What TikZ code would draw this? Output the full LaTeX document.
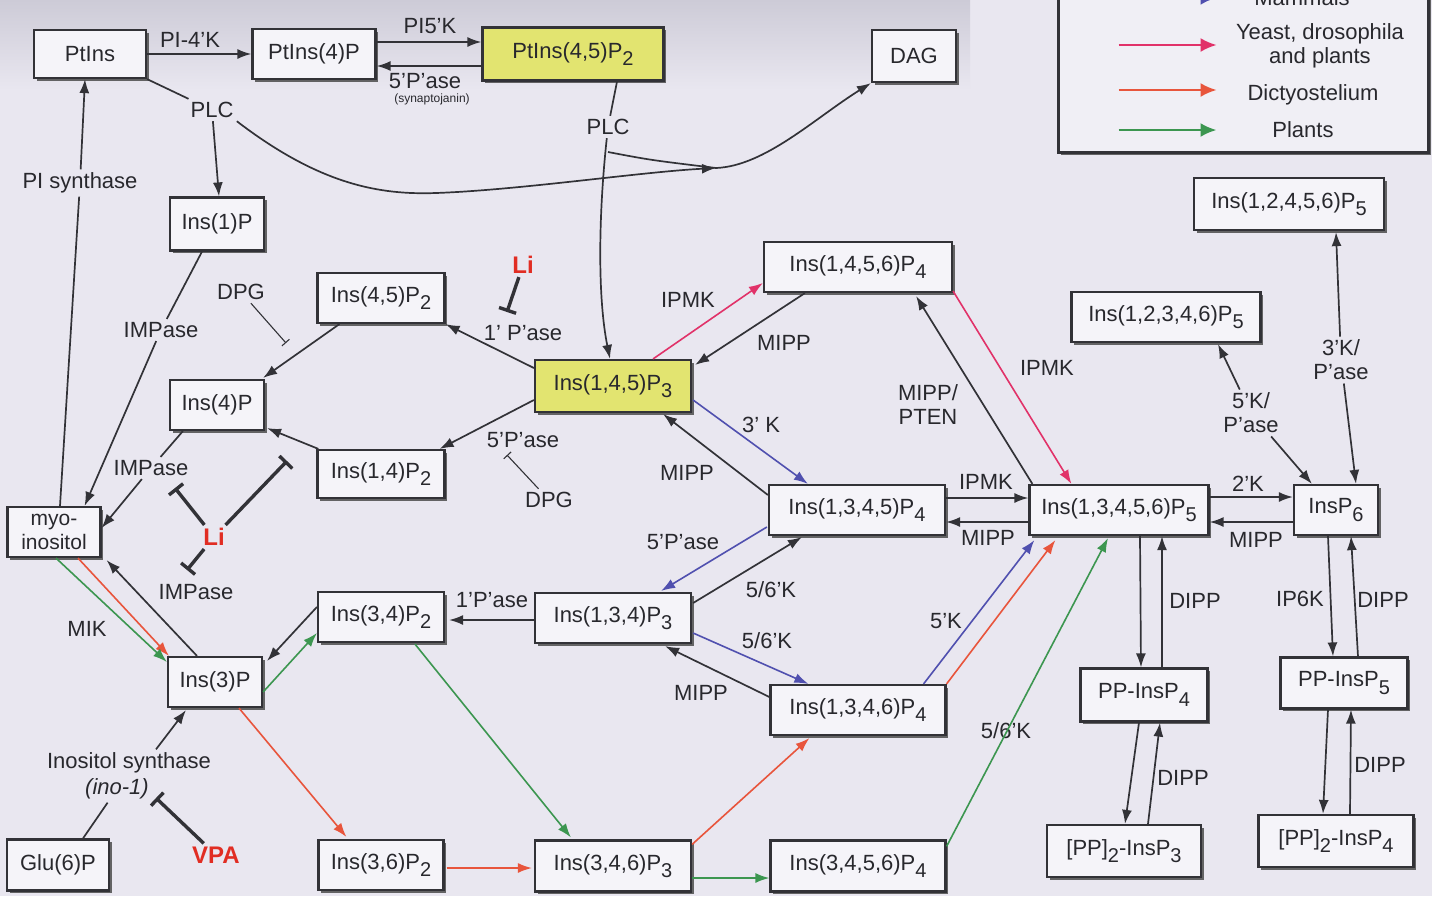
\documentclass[tikz,border=0pt]{standalone}
\usepackage{fontspec}
\setmainfont{Liberation Sans}
\usetikzlibrary{arrows.meta,shadows,calc}
\definecolor{bg}{RGB}{233,231,240}
\definecolor{bandc}{RGB}{205,203,215}
\definecolor{boxf}{RGB}{245,244,249}
\definecolor{yel}{RGB}{226,228,112}
\definecolor{ln}{RGB}{50,50,55}
\definecolor{txt}{RGB}{40,40,45}
\definecolor{mblue}{RGB}{80,80,175}
\definecolor{mpink}{RGB}{225,50,105}
\definecolor{morange}{RGB}{232,85,60}
\definecolor{mgreen}{RGB}{60,150,80}
\definecolor{mred}{RGB}{225,45,35}
\newcommand\sbx[1]{\raisebox{-3.8pt}{\fontsize{10}{10}\selectfont #1}}
\begin{document}
\begin{tikzpicture}[x=0.5pt,y=-0.5pt,
  bx/.style={draw=ln, line width=1.1pt, fill=boxf, inner sep=0pt, text=txt,
     font=\fontsize{11}{12}\selectfont,
     drop shadow={shadow xshift=1.3pt, shadow yshift=-1.3pt, fill=black!70, opacity=0.85}},
  wh/.style 2 args={minimum width=#1*0.5pt, minimum height=#2*0.5pt},
  lab/.style={inner sep=1.5pt, text=txt, font=\fontsize{11}{12}\selectfont, align=center},
  redlab/.style={inner sep=1.5pt, text=mred, font=\bfseries\fontsize{12}{13}\selectfont},
  ar/.style={draw=ln, line width=0.85pt, -{Latex[length=7pt,width=5pt]}},
  lnk/.style={draw=ln, line width=0.85pt},
  car/.style={line width=0.8pt, -{Latex[length=7pt,width=5pt]}, draw=#1},
  inhk/.style={draw=ln, line width=1.7pt, -{Bar[width=9pt]}},
  inht/.style={draw=ln, line width=0.55pt, -{Bar[width=5pt]}},
]
\useasboundingbox (0,0) rectangle (1432,896);
\clip (0,0) rectangle (1432,896);
\fill[bg] (0,0) rectangle (1432,896);
\shade[top color=bandc, bottom color=bg] (0,0) rectangle (970,90);

% ---------- boxes ----------
\node[bx,wh={112}{48}] (ptins) at (90,54) {PtIns};
\node[bx,wh={123}{50}] (pt4p) at (314,54) {PtIns(4)P};
\node[bx,wh={181}{53},fill=yel] (pt45) at (573,54) {PtIns(4,5)P\sbx{2}};
\node[bx,wh={84}{52}] (dag) at (914,56) {DAG};
\node[bx,wh={94}{53}] (ins1p) at (217,224) {Ins(1)P};
\node[bx,wh={127}{50}] (i45) at (381,298) {Ins(4,5)P\sbx{2}};
\node[bx,wh={94}{50}] (i4p) at (217,405) {Ins(4)P};
\node[bx,wh={127}{48}] (i14) at (381,474) {Ins(1,4)P\sbx{2}};
\node[bx,wh={156}{52},fill=yel] (i145) at (613,386) {Ins(1,4,5)P\sbx{3}};
\node[bx,wh={93}{50},align=center,font=\fontsize{10.5}{12}\selectfont] (myo) at (54,532) {myo-\\inositol};
\node[bx,wh={94}{50}] (i3p) at (215,682) {Ins(3)P};
\node[bx,wh={126}{50}] (i34) at (381,617) {Ins(3,4)P\sbx{2}};
\node[bx,wh={156}{50}] (i134) at (613,618) {Ins(1,3,4)P\sbx{3}};
\node[bx,wh={102}{51}] (glu) at (58,865) {Glu(6)P};
\node[bx,wh={125}{50}] (i36) at (381,865) {Ins(3,6)P\sbx{2}};
\node[bx,wh={156}{51}] (i346) at (613,866) {Ins(3,4,6)P\sbx{3}};
\node[bx,wh={175}{51}] (i3456) at (858,866) {Ins(3,4,5,6)P\sbx{4}};
\node[bx,wh={188}{50}] (i1456) at (858,267) {Ins(1,4,5,6)P\sbx{4}};
\node[bx,wh={176}{50}] (i1345) at (857,510) {Ins(1,3,4,5)P\sbx{4}};
\node[bx,wh={175}{50}] (i1346) at (858,710) {Ins(1,3,4,6)P\sbx{4}};
\node[bx,wh={179}{50}] (p5) at (1119,510) {Ins(1,3,4,5,6)P\sbx{5}};
\node[bx,wh={84}{50}] (ip6) at (1336,510) {InsP\sbx{6}};
\node[bx,wh={190}{52}] (p5a) at (1289,204) {Ins(1,2,4,5,6)P\sbx{5}};
\node[bx,wh={189}{50}] (p5b) at (1166,317) {Ins(1,2,3,4,6)P\sbx{5}};
\node[bx,wh={127}{53}] (pp4) at (1144,695) {PP-InsP\sbx{4}};
\node[bx,wh={127}{51}] (pp5) at (1344,683) {PP-InsP\sbx{5}};
\node[bx,wh={154}{52}] (pp23) at (1124,851) {[PP]\sbx{2}-InsP\sbx{3}};
\node[bx,wh={155}{52}] (pp24) at (1336,841) {[PP]\sbx{2}-InsP\sbx{4}};

% ---------- legend ----------
\node[bx,wh={370}{190},line width=1.5pt,fill=boxf!60!bg] (leg) at (1243,57) {};
\node[lab] (lgm) at (1302,-2) {Mammals};
\node[lab] (lgy) at (1320,46) {Yeast, drosophila\\and plants};
\node[lab] (lgd) at (1313,95) {Dictyostelium};
\node[lab] (lgp) at (1303,130) {Plants};
\draw[car=mblue,line width=1.8pt,-{Latex[length=8pt,width=7pt]}] ($(leg.west)+(62,-59)$) -- ($(leg.west)+(160,-59)$);
\draw[car=mpink,line width=1pt,-{Latex[length=8pt,width=7pt]}] ($(leg.west)+(62,-12)$) -- ($(leg.west)+(160,-12)$);
\draw[car=morange,line width=1pt,-{Latex[length=8pt,width=7pt]}] ($(leg.west)+(62,33)$) -- ($(leg.west)+(160,33)$);
\draw[car=mgreen,line width=1.2pt,-{Latex[length=8pt,width=7pt]}] ($(leg.west)+(62,73)$) -- ($(leg.west)+(160,73)$);

% ---------- labels ----------
\node[lab] (l4k) at (190,40) {PI-4'K};
\node[lab] (l5k) at (430,26) {PI5'K};
\node[lab,inner sep=0pt] (l5p) at (425,81) {5'P'ase};
\node[lab,font=\fontsize{6}{7}\selectfont,inner sep=0pt] (lsyn) at (432,99) {(synaptojanin)};
\node[lab] (plc1) at (212,110) {PLC};
\node[lab] (plc2) at (608,127) {PLC};
\node[lab] (psyn) at (80,183) {PI synthase};
\node[lab] (imp1) at (161,330) {IMPase};
\node[lab] (dpg1) at (241,292) {DPG};
\node[redlab] (li1) at (523,265) {Li};
\node[lab] (l1p) at (523,333) {1' P'ase};
\node[lab] (lipmk1) at (688,300) {IPMK};
\node[lab] (lmipp1) at (784,343) {MIPP};
\node[lab] (imp2) at (151,468) {IMPase};
\node[lab] (l5p2) at (523,440) {5'P'ase};
\node[lab] (dpg2) at (549,500) {DPG};
\node[lab] (l3k) at (761,425) {3' K};
\node[lab] (lmipp2) at (687,473) {MIPP};
\node[lab] (lpten) at (928,405) {MIPP/\\PTEN};
\node[lab] (lipmk2) at (1047,368) {IPMK};
\node[lab] (kp2) at (1341,360) {3'K/\\P'ase};
\node[lab] (kp1) at (1251,413) {5'K/\\P'ase};
\node[lab] (lipmk3) at (986,482) {IPMK};
\node[lab] (lmipp3) at (988,538) {MIPP};
\node[lab] (l2k) at (1248,484) {2'K};
\node[lab] (lmipp4) at (1256,540) {MIPP};
\node[redlab] (li2) at (214,537) {Li};
\node[lab] (l5p3) at (683,542) {5'P'ase};
\node[lab] (imp3) at (196,592) {IMPase};
\node[lab] (lmik) at (87,629) {MIK};
\node[lab] (l1p2) at (492,600) {1'P'ase};
\node[lab] (l56a) at (771,590) {5/6'K};
\node[lab] (l56b) at (767,641) {5/6'K};
\node[lab] (l5k2) at (946,621) {5'K};
\node[lab] (ldipp1) at (1195,601) {DIPP};
\node[lab] (lip6k) at (1300,599) {IP6K};
\node[lab] (ldipp2) at (1383,600) {DIPP};
\node[lab] (lmipp5) at (701,693) {MIPP};
\node[lab] (l56c) at (1006,731) {5/6'K};
\node[lab] (inos) at (129,763) {Inositol synthase};
\node[lab] (ino1) at (117,789) {\itshape (ino-1)};
\node[lab] (ldipp3) at (1183,778) {DIPP};
\node[lab] (ldipp4) at (1380,765) {DIPP};
\node[redlab] (vpa) at (216,855) {VPA};

% ---------- free ends ----------
\coordinate (m1) at (716,168);
\coordinate (br) at (608,152);
\coordinate (b1) at (175,488);
\coordinate (b2) at (287,461);
\coordinate (b3) at (187,570);
\coordinate (b4) at (507,312);
\coordinate (b5) at (286,343);
\coordinate (b6) at (507,455);
\coordinate (b7) at (156,798);

% ---------- top row ----------
\draw[ar] (ptins.east) -- (pt4p.west);
\draw[ar] ($(pt4p.east)+(0,-12)$) -- ($(pt45.west)+(0,-12)$);
\draw[ar] ($(pt45.west)+(0,12)$) -- ($(pt4p.east)+(0,12)$);
\draw[lnk] (ptins.south east) -- (plc1);
\draw[ar] (plc1) -- ($(ins1p.north)+(2,0)$);
\draw[ar] (plc1.south east) .. controls (320,185) and (380,195) .. (436,193)
   .. controls (520,190) and (640,172) .. (m1);
\draw[ar] (m1) .. controls (765,166) and (815,118) .. (dag.south west);
\draw[lnk] ($(pt45.south)+(44,0)$) -- (plc2);
\draw[ar] (plc2) .. controls (598,220) and (598,300) .. ($(i145.north)+(-3,0)$);
\draw[lnk] (br) .. controls (650,160) .. (m1);
\draw[lnk] ($(myo.north)+(6,0)$) -- (psyn);
\draw[ar] (psyn) -- ($(ptins.south)+(-5,0)$);

% ---------- left part ----------
\draw[lnk] ($(ins1p.south)+(-15,0)$) -- (imp1);
\draw[ar] (imp1) -- ($(myo.north east)+(-17,0)$);
\draw[lnk] ($(i4p.south west)+(14,0)$) -- (imp2);
\draw[ar] (imp2) -- ($(myo.east)+(0,-4)$);
\draw[ar] ($(i3p.north)+(-18,0)$) -- ($(myo.south east)+(5,2)$);
\draw[car=morange] ($(myo.south)+(24,0)$) -- ($(i3p.north west)+(2,0)$);
\draw[car=mgreen] ($(myo.south)+(2,0)$) -- ($(i3p.west)+(0,-20)$);
\draw[inhk] (li2) -- (b1);
\draw[inhk] (li2) -- (b2);
\draw[inhk] (li2) -- (b3);
\draw[ar] ($(i45.south west)+(23,0)$) -- ($(i4p.north east)+(-2,-1)$);
\draw[ar] ($(i14.north west)+(2,0)$) -- ($(i4p.south east)+(2,-3)$);
\draw[inht] (dpg1) -- (b5);
\draw[ar] ($(i145.west)+(0,-18)$) -- (i45.south east);
\draw[ar] ($(i145.west)+(0,14)$) -- ($(i14.north east)+(-6,0)$);
\draw[inhk] (li1) -- (b4);
\draw[inht] (dpg2) -- (b6);
\draw[ar] ($(i134.west)+(0,2)$) -- ($(i34.east)+(4,3)$);
\draw[ar] ($(i34.west)+(0,-10)$) -- ($(i3p.north east)+(4,5)$);
\draw[car=mgreen] ($(i3p.east)+(0,10)$) -- ($(i34.west)+(0,16)$);
\draw[car=morange] ($(i3p.south)+(24,0)$) -- ($(i36.north west)+(29,-2)$);
\draw[lnk] ($(glu.north)+(25,0)$) -- (ino1);
\draw[ar] ($(inos.north)+(27,0)$) -- ($(i3p.south)+(-29,2)$);
\draw[inhk] (vpa) -- (b7);
\draw[car=morange] ($(i36.east)+(2,3)$) -- ($(i346.west)+(-2,2)$);
\draw[car=mgreen] ($(i34.south)+(34,1)$) -- ($(i346.north west)+(37,-2)$);
\draw[car=mgreen] ($(i346.east)+(0,12)$) -- ($(i3456.west)+(0,12)$);
\draw[car=morange] ($(i346.north east)+(0,5)$) -- ($(i1346.south west)+(40,2)$);

% ---------- middle ----------
\draw[car=mpink] ($(i145.north east)+(-39,0)$) -- ($(i1456.west)+(0,16)$);
\draw[ar] ($(i1456.south west)+(42,0)$) -- ($(i145.north east)+(3,6)$);
\draw[car=mblue] ($(i145.east)+(1,14)$) -- ($(i1345.north west)+(40,0)$);
\draw[ar] ($(i1345.west)+(0,-15)$) -- ($(i145.south east)+(-29,1)$);
\draw[car=mblue] ($(i1345.west)+(-1,17)$) -- ($(i134.north east)+(-31,-1)$);
\draw[ar] ($(i134.east)+(1,-15)$) -- ($(i1345.south west)+(34,1)$);
\draw[car=mblue] ($(i134.east)+(1,15)$) -- ($(i1346.north west)+(39,0)$);
\draw[ar] ($(i1346.west)+(0,-13)$) -- ($(i134.south east)+(-27,2)$);
\draw[car=mgreen] ($(i3456.north east)+(0,7)$) -- ($(p5.south)+(-11,2)$);
\draw[car=mblue] ($(i1346.north east)+(-23,0)$) -- ($(p5.south west)+(6,4)$);
\draw[car=morange] ($(i1346.north east)+(0,0)$) -- ($(p5.south west)+(27,4)$);
\draw[ar] ($(i1345.east)+(0,-12)$) -- ($(p5.west)+(0,-12)$);
\draw[ar] ($(p5.west)+(0,12)$) -- ($(i1345.east)+(0,12)$);
\draw[ar] ($(p5.north west)+(4,0)$) -- ($(i1456.south east)+(-37,3)$);
\draw[car=mpink] ($(i1456.south east)+(0,-2)$) -- ($(p5.north west)+(43,0)$);

% ---------- right part ----------
\draw[ar] ($(p5.east)+(0,-13)$) -- ($(ip6.west)+(0,-13)$);
\draw[ar] ($(ip6.west)+(0,12)$) -- ($(p5.east)+(0,12)$);
\draw[ar] (kp1) -- ($(ip6.north west)+(19,0)$);
\draw[ar] (kp1) -- ($(p5b.south)+(52,1)$);
\draw[ar] (kp2) -- ($(p5a.south)+(47,1)$);
\draw[ar] (kp2) -- ($(ip6.north)+(20,0)$);
\draw[ar] ($(p5.south)+(21,0)$) -- ($(pp4.north)+(-3,0)$);
\draw[ar] ($(pp4.north)+(18,0)$) -- ($(p5.south)+(43,0)$);
\draw[ar] ($(pp4.south)+(-5,0)$) -- ($(pp23.north)+(1,0)$);
\draw[ar] ($(pp23.north)+(24,0)$) -- ($(pp4.south)+(16,0)$);
\draw[ar] ($(ip6.south)+(-8,0)$) -- ($(pp5.north)+(-11,0)$);
\draw[ar] ($(pp5.north)+(14,0)$) -- ($(ip6.south)+(15,0)$);
\draw[ar] ($(pp5.south)+(-16,0)$) -- ($(pp24.north)+(-13,0)$);
\draw[ar] ($(pp24.north)+(14,0)$) -- ($(pp5.south)+(7,0)$);
\end{tikzpicture}
\end{document}
